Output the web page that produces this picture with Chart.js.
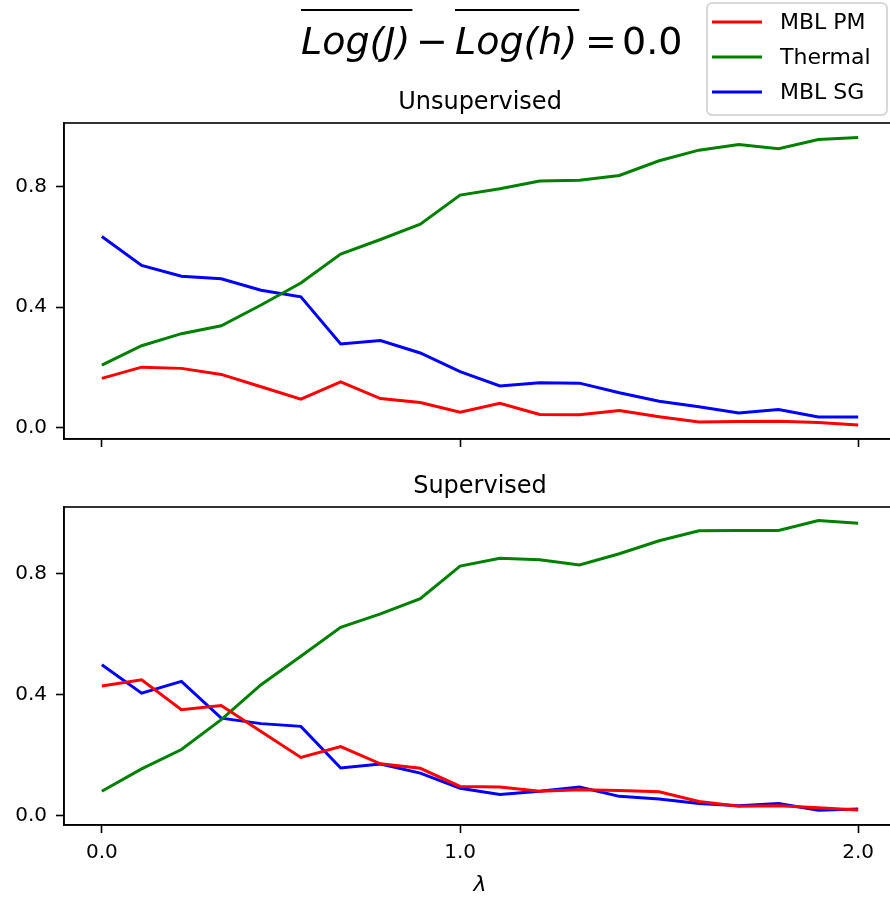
<!DOCTYPE html>
<html>
<head>
<meta charset="utf-8">
<title>MBL vs Thermal</title>
<script src="https://cdn.jsdelivr.net/npm/chart.js@4"></script>
<style>
  html, body { margin: 0; padding: 0; background: #fff; overflow: hidden; }
  #wrap { position: relative; width: 890px; height: 898px; overflow: hidden; }
  canvas { position: absolute; left: 0; }
  #topChart { top: 0; }
  #bottomChart { top: 460px; }
</style>
</head>
<body>
<div id="wrap">
  <canvas id="topChart" width="898" height="460"></canvas>
  <canvas id="bottomChart" width="898" height="438"></canvas>
</div>
<script>
// series names and colours
const seriesNames = ["MBL PM", "Thermal", "MBL SG"];
const seriesColors = ["#ff0000", "#008000", "#0000ff"];

// x tick labels (lambda) and the point index they sit on
const lambdaLabels = ["0.0", "1.0", "2.0"];
const lambdaTickIndex = [0, 9, 19];
const yTicks = [0.0, 0.4, 0.8];

// Unsupervised panel
const unsupPM = [0.164, 0.201, 0.197, 0.177, 0.136, 0.095, 0.152, 0.097, 0.084, 0.052,
                 0.081, 0.044, 0.043, 0.057, 0.037, 0.019, 0.021, 0.022, 0.018, 0.009];
const unsupThermal = [0.208, 0.272, 0.312, 0.338, 0.407, 0.480, 0.576, 0.624, 0.675, 0.771,
                      0.792, 0.818, 0.820, 0.836, 0.885, 0.920, 0.939, 0.925, 0.955, 0.962];
const unsupSG = [0.634, 0.538, 0.502, 0.494, 0.456, 0.434, 0.278, 0.289, 0.248, 0.186,
                 0.139, 0.149, 0.148, 0.116, 0.088, 0.070, 0.049, 0.061, 0.036, 0.036];

// Supervised panel
const supPM = [0.429, 0.449, 0.350, 0.364, 0.278, 0.192, 0.228, 0.171, 0.156, 0.096,
               0.094, 0.080, 0.085, 0.082, 0.078, 0.046, 0.030, 0.032, 0.025, 0.018];
const supThermal = [0.080, 0.154, 0.218, 0.317, 0.433, 0.527, 0.623, 0.668, 0.718, 0.826,
                    0.852, 0.847, 0.830, 0.867, 0.910, 0.943, 0.944, 0.944, 0.977, 0.968];
const supSG = [0.499, 0.405, 0.444, 0.322, 0.304, 0.295, 0.157, 0.170, 0.140, 0.090,
               0.069, 0.080, 0.094, 0.063, 0.054, 0.039, 0.032, 0.039, 0.017, 0.021];

Chart.defaults.font.family = "'DejaVu Sans', sans-serif";
Chart.defaults.color = "#000";

function toPoints(values) {
  return values.map((v, i) => ({ x: i, y: v }));
}

function makeDatasets(seriesList) {
  return seriesList.map((values, k) => ({
    label: seriesNames[k],
    data: toPoints(values),
    borderColor: seriesColors[k],
    backgroundColor: seriesColors[k],
    borderWidth: 3,
    pointRadius: 0,
    tension: 0,
    fill: false
  }));
}

// frame, panel title, and (top panel only) suptitle + legend
const panelDecor = {
  id: "panelDecor",
  afterDatasetsDraw(chart, args, opts) {
    const ctx = chart.ctx;
    const area = chart.chartArea;
    ctx.save();
    ctx.strokeStyle = "#000";
    ctx.lineWidth = 1.6;
    ctx.strokeRect(area.left, area.top, area.right - area.left, area.bottom - area.top);

    ctx.fillStyle = "#000";
    ctx.font = "24px 'DejaVu Sans'";
    ctx.textAlign = "center";
    ctx.textBaseline = "alphabetic";
    ctx.fillText(opts.title, (area.left + area.right) / 2, area.top - 14);

    if (opts.header) {
      // suptitle: overline(Log(J)) - overline(Log(h)) = 0.0
      const base = 54;
      ctx.textAlign = "left";
      ctx.font = "italic 38px 'DejaVu Sans'";
      const w1 = ctx.measureText("Log(J)").width;
      ctx.fillText("Log(J)", 301, base);
      const w2 = ctx.measureText("Log(h)").width;
      ctx.fillText("Log(h)", 455, base);
      ctx.font = "38px 'DejaVu Sans'";
      ctx.textAlign = "center";
      ctx.fillText("\u2212", 432, base);
      ctx.fillText("=", 601, base);
      ctx.textAlign = "left";
      ctx.fillText("0.0", 622, base);
      ctx.lineWidth = 2;
      ctx.beginPath();
      ctx.moveTo(301, 10); ctx.lineTo(301 + w1 + 2, 10);
      ctx.moveTo(455, 10); ctx.lineTo(455 + w2 + 2, 10);
      ctx.stroke();

      // legend box
      const bx = 707, by = 3, bw = 180, bh = 112, r = 5;
      ctx.beginPath();
      ctx.moveTo(bx + r, by);
      ctx.arcTo(bx + bw, by, bx + bw, by + bh, r);
      ctx.arcTo(bx + bw, by + bh, bx, by + bh, r);
      ctx.arcTo(bx, by + bh, bx, by, r);
      ctx.arcTo(bx, by, bx + bw, by, r);
      ctx.closePath();
      ctx.fillStyle = "rgba(255,255,255,0.8)";
      ctx.fill();
      ctx.strokeStyle = "#cccccc";
      ctx.lineWidth = 1.5;
      ctx.stroke();

      ctx.font = "22px 'DejaVu Sans'";
      ctx.textBaseline = "middle";
      chart.data.datasets.forEach((ds, k) => {
        const y = 22 + k * 35;
        ctx.strokeStyle = ds.borderColor;
        ctx.lineWidth = 3;
        ctx.beginPath();
        ctx.moveTo(712, y);
        ctx.lineTo(762, y);
        ctx.stroke();
        ctx.fillStyle = "#000";
        ctx.fillText(ds.label, 780, y + 1);
      });
    }
    ctx.restore();
  }
};

function makeChart(canvasId, seriesList, opts) {
  return new Chart(document.getElementById(canvasId), {
    type: "line",
    data: { datasets: makeDatasets(seriesList) },
    options: {
      responsive: false,
      animation: false,
      layout: { padding: { top: opts.padTop, right: 2, left: 0, bottom: 0 } },
      plugins: {
        legend: { display: false },
        tooltip: { enabled: false },
        title: { display: false },
        panelDecor: { title: opts.title, header: opts.header }
      },
      scales: {
        x: {
          type: "linear",
          min: -0.95,
          max: 19.95,
          afterBuildTicks: (scale) => {
            scale.ticks = lambdaTickIndex.map(v => ({ value: v }));
          },
          afterFit: (scale) => { scale.height = opts.xHeight; },
          ticks: {
            display: opts.showX,
            font: { size: 20 },
            padding: 8,
            maxRotation: 0,
            autoSkip: false,
            callback: (value) => {
              const idx = lambdaTickIndex.indexOf(value);
              return idx >= 0 ? lambdaLabels[idx] : "";
            }
          },
          grid: {
            display: true,
            drawOnChartArea: false,
            drawTicks: true,
            tickLength: 8,
            tickWidth: 1.6,
            tickColor: "#000"
          },
          border: { display: true, color: "#000", width: 1.6 },
          title: {
            display: opts.showX,
            text: "\u03bb",
            font: { size: 22, style: "italic" },
            padding: { top: 0, bottom: 0 }
          }
        },
        y: {
          min: opts.yMin,
          max: opts.yMax,
          afterBuildTicks: (scale) => {
            scale.ticks = yTicks.map(v => ({ value: v }));
          },
          afterFit: (scale) => { scale.width = 64; },
          ticks: {
            font: { size: 20 },
            padding: 9,
            callback: (value) => value.toFixed(1)
          },
          grid: {
            display: true,
            drawOnChartArea: false,
            drawTicks: true,
            tickLength: 8,
            tickWidth: 1.6,
            tickColor: "#000"
          },
          border: { display: true, color: "#000", width: 1.6 }
        }
      }
    },
    plugins: [panelDecor]
  });
}

makeChart("topChart", [unsupPM, unsupThermal, unsupSG], {
  title: "Unsupervised", header: true, padTop: 123, xHeight: 18,
  showX: false, yMin: -0.037, yMax: 1.010
});

makeChart("bottomChart", [supPM, supThermal, supSG], {
  title: "Supervised", header: false, padTop: 47, xHeight: 73,
  showX: true, yMin: -0.032, yMax: 1.022
});
</script>
</body>
</html>
